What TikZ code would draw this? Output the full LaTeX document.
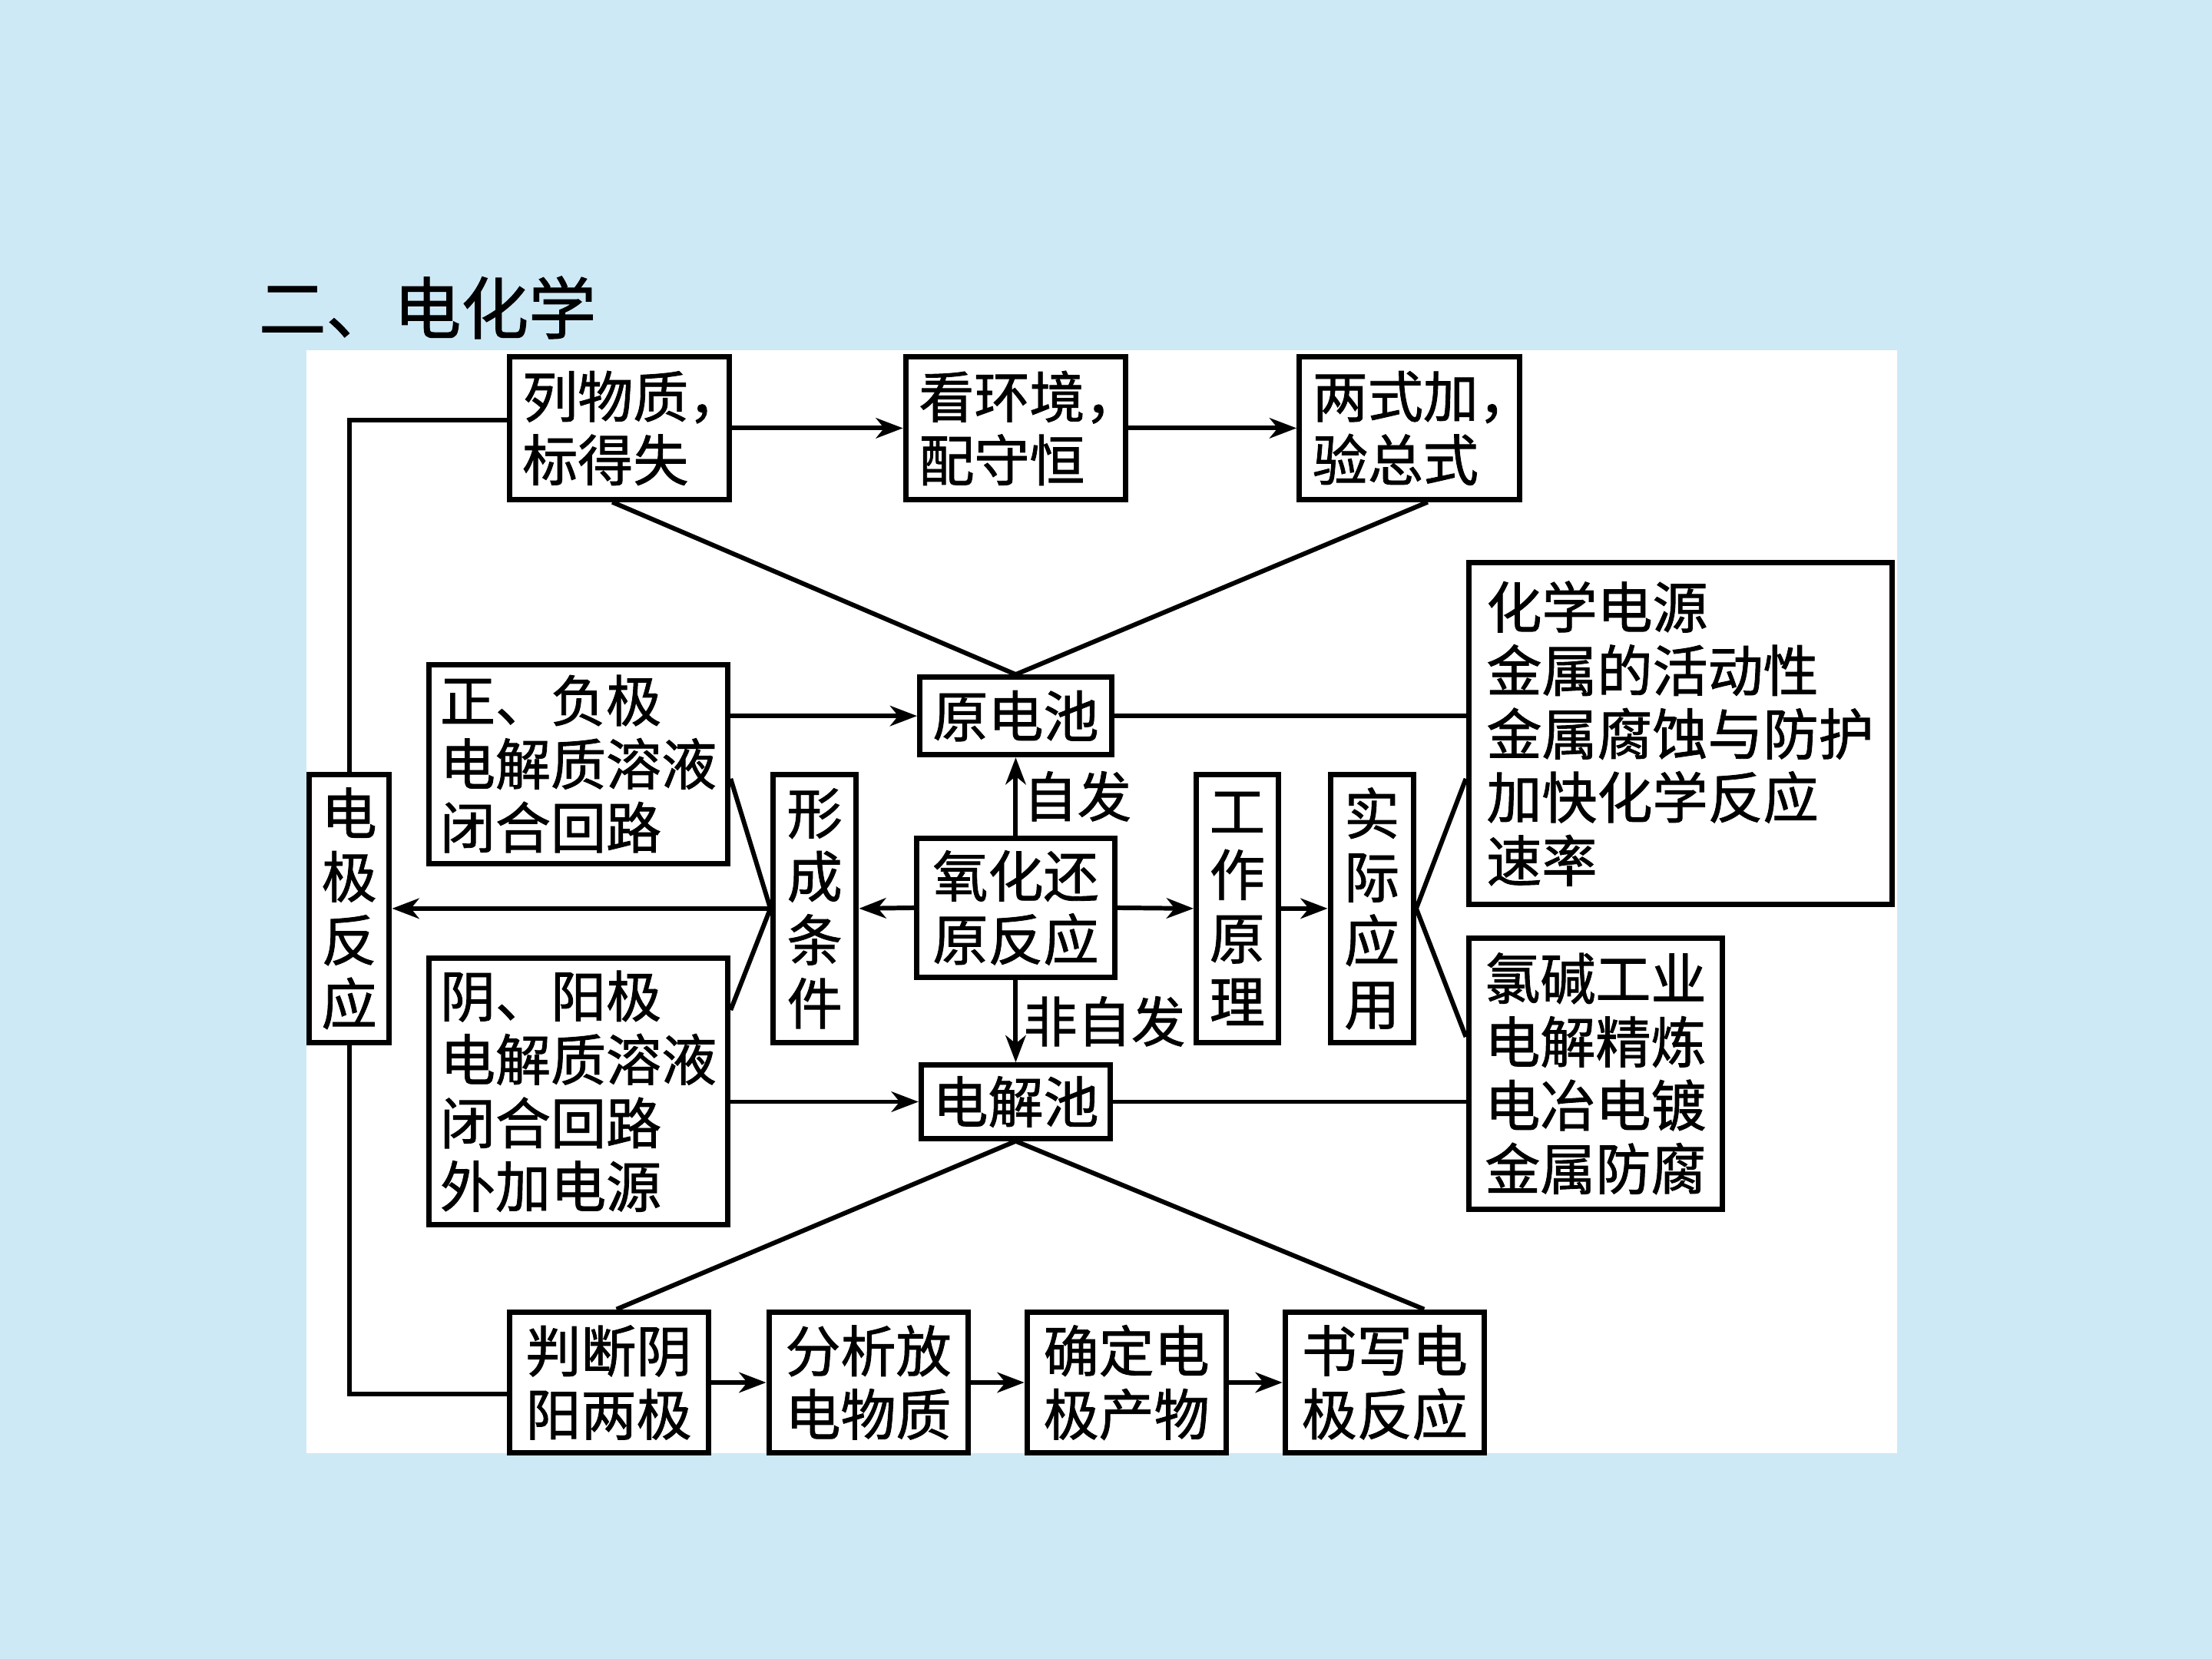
\documentclass[tikz,border=0pt]{standalone}
\usepackage{fontspec}
\setmainfont{Noto Sans CJK SC}[FakeBold=1.2]
\newfontfamily\haltfont{Noto Sans CJK SC}[RawFeature=+halt, FakeBold=1.2]
\usetikzlibrary{arrows.meta,calc}
\definecolor{bgblue}{RGB}{206,233,246}
\begin{document}
\begin{tikzpicture}[x=0.018367cm, y=-0.018367cm,
  box/.style={draw, line width=2pt, fill=white, inner sep=0pt, align=left,
    font=\fontsize{20.5pt}{23.5pt}\selectfont},
  vbox/.style={box, align=center},
  sz/.style 2 args={minimum width={#1*0.018367cm}, minimum height={#2*0.018367cm}},
  conn/.style={line width=1.7pt},
  arr/.style={line width=1.7pt, -{Stealth[length=10pt,width=7.5pt,inset=3pt]}},
  lbl/.style={inner sep=2pt, font=\fontsize{20pt}{22pt}\selectfont}]
\useasboundingbox (0,0) rectangle (1568,1176);
\fill[bgblue] (0,0) rectangle (1568,1176);
\node[fill=white, inner sep=0pt, sz={1128}{782}] (panel) at (781,639) {};
\node[anchor=west, inner sep=0pt, font=\fontsize{25pt}{25pt}\selectfont] (title) at (183,218) {二、电化学};

% top row
\node[box, sz={156}{101}] (b1) at (439,303.5) {列物质{\haltfont ，}\\标得失};
\node[box, sz={156}{101}] (b2) at (720,303.5) {看环境{\haltfont ，}\\配守恒};
\node[box, sz={156}{101}] (b3) at (999,303.5) {两式加{\haltfont ，}\\验总式};

% middle
\node[box, sz={136}{55}] (yuan) at (720,507.5) {原电池};
\node[box, sz={212}{141}] (zf) at (410,541.5) {正、负极\\电解质溶液\\闭合回路};
\node[box, sz={300}{242}] (hx) at (1191,520) {化学电源\\金属的活动性\\金属腐蚀与防护\\加快化学反应\\速率};
\node[vbox, sz={57}{190}] (dj) at (247.5,644) {电\\极\\反\\应};
\node[vbox, sz={59}{190}] (xc) at (577.5,644) {形\\成\\条\\件};
\node[box, sz={140}{99}] (yh) at (720,643.5) {氧化还\\原反应};
\node[vbox, sz={58}{190}] (gz) at (877,644) {工\\作\\原\\理};
\node[vbox, sz={59}{190}] (sj) at (972.5,644) {实\\际\\应\\用};
\node[box, sz={212}{189}] (yy) at (410,773.5) {阴、阳极\\电解质溶液\\闭合回路\\外加电源};
\node[box, sz={134}{52}] (dc) at (720,781) {电解池};
\node[box, sz={180}{192}] (lj) at (1131,761) {氯碱工业\\电解精炼\\电冶电镀\\金属防腐};

% bottom row
\node[box, sz={141}{100}] (p1) at (431.5,980) {判断阴\\阳两极};
\node[box, sz={141}{100}] (p2) at (615.5,980) {分析放\\电物质};
\node[box, sz={141}{100}] (p3) at (798.5,980) {确定电\\极产物};
\node[box, sz={141}{100}] (p4) at (981.5,980) {书写电\\极反应};

% connectors top
\draw[arr] (b1.east) -- (b2.west);
\draw[arr] (b2.east) -- (b3.west);
\draw[conn] ($(b1.south)+(-5,0)$) -- (yuan.north);
\draw[conn] ($(b3.south)+(13,0)$) -- (yuan.north);

% left loop
\draw[conn] ($(b1.west)+(0,-5.5)$) -| (dj.north);
\draw[conn] (dj.south) |- ($(p1.west)+(0,8)$);

% yuan dian chi
\draw[arr] (zf.east |- yuan.west) -- (yuan.west);
\draw[conn] (yuan.east) -- (hx.west |- yuan.east);

% centre
\draw[arr] (yh.north) -- node[lbl, anchor=west] (l1) {自发} (yuan.south);
\draw[arr] (yh.south) -- node[lbl, anchor=west] (l2) {非自发} (dc.north);
\draw[arr] (yh.west) -- (xc.east);
\draw[arr] (xc.west) -- (dj.east);
\draw[conn] ($(zf.east)+(0,10.5)$) -- (xc.west) -- ($(yy.east)+(0,-57.5)$);
\draw[arr] (yh.east) -- (gz.west);
\draw[arr] (gz.east) -- (sj.west);
\draw[conn] ($(hx.west)+(0,32)$) -- (sj.east) -- ($(lj.west)+(0,-26)$);

% dian jie chi
\draw[arr] (yy.east |- dc.west) -- (dc.west);
\draw[conn] (dc.east) -- (lj.west |- dc.east);
\draw[conn] ($(p1.north)+(5.5,0)$) -- (dc.south);
\draw[conn] ($(p4.north)+(28,0)$) -- (dc.south);

% bottom arrows
\draw[arr] (p1.east) -- (p2.west);
\draw[arr] (p2.east) -- (p3.west);
\draw[arr] (p3.east) -- (p4.west);
\end{tikzpicture}
\end{document}
